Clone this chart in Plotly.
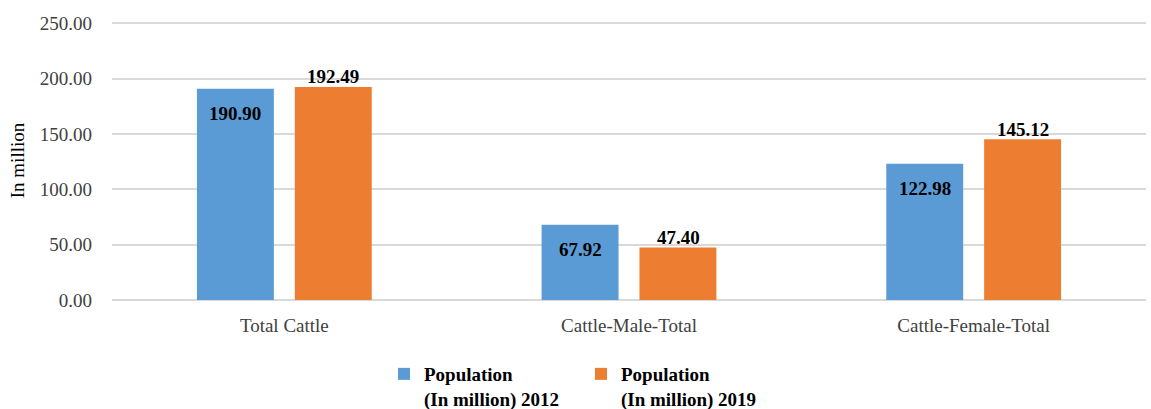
import plotly.graph_objects as go

categories = ["Total Cattle", "Cattle-Male-Total", "Cattle-Female-Total"]
pop_2012 = [190.90, 67.92, 122.98]
pop_2019 = [192.49, 47.40, 145.12]
series_names = ["Population<br>(In million) 2012", "Population<br>(In million) 2019"]
y_ticks = [0, 50, 100, 150, 200, 250]

FONT = "Liberation Serif"
FS = 19

fig = go.Figure()
fig.add_trace(go.Bar(
    x=categories, y=pop_2012, name=series_names[0],
    marker=dict(color="#5B9BD5", line=dict(width=0)),
))
fig.add_trace(go.Bar(
    x=categories, y=pop_2019, name=series_names[1],
    marker=dict(color="#ED7D31", line=dict(width=0)),
))

# data labels: 2012 inside the bar end, 2019 just above the bar end
for cat, val in zip(categories, pop_2012):
    fig.add_annotation(
        x=cat, y=val, xref="x", yref="y",
        text=f"<b>{val:.2f}</b>", showarrow=False,
        xshift=-49, yshift=-25, yanchor="middle",
        font=dict(family=FONT, size=FS, color="#000000"),
    )
for cat, val in zip(categories, pop_2019):
    fig.add_annotation(
        x=cat, y=val, xref="x", yref="y",
        text=f"<b>{val:.2f}</b>", showarrow=False,
        xshift=49, yshift=10, yanchor="middle",
        font=dict(family=FONT, size=FS, color="#000000"),
    )

fig.update_layout(
    width=1151, height=409,
    margin=dict(l=112, r=5, t=21, b=109),
    paper_bgcolor="white", plot_bgcolor="white",
    barmode="group", bargap=0.432, bargroupgap=0.214,
    font=dict(family=FONT, size=FS, color="#404040"),
    legend=dict(
        orientation="h",
        xref="container", x=0.3336, xanchor="left",
        yref="container", y=0.132, yanchor="top",
        font=dict(family=FONT, size=FS, color="#000000", weight="bold"),
        traceorder="normal", itemwidth=30, valign="top",
        entrywidth=152, entrywidthmode="pixels",
    ),
    showlegend=True,
)
fig.update_yaxes(
    range=[0, 252], tickvals=y_ticks, tickformat=".2f",
    showgrid=True, gridcolor="#D9D9D9", gridwidth=1.5,
    zeroline=True, zerolinecolor="#D9D9D9", zerolinewidth=1.5,
    showline=False, ticks="", ticklabelstandoff=19, automargin=False,
    title=dict(text="In million", font=dict(family=FONT, size=FS, color="#000000"), standoff=10),
    tickfont=dict(family=FONT, size=FS, color="#404040"),
)
fig.update_xaxes(
    showline=False, ticks="", showgrid=False, automargin=False,
    tickfont=dict(family=FONT, size=FS, color="#404040"),
    ticklabelstandoff=12,
)

fig.write_html(
    "out.html",
    config={"displayModeBar": False},
    post_script="document.body.style.margin='0';",
)
